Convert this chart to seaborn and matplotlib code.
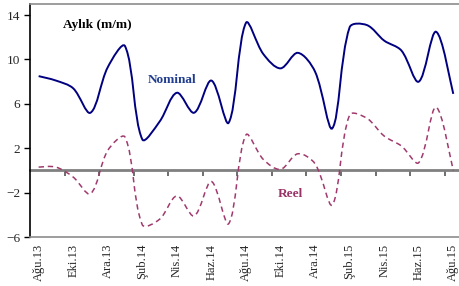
import numpy as np
import matplotlib
matplotlib.use("Agg")
import matplotlib.pyplot as plt
from matplotlib.path import Path
from matplotlib.patches import PathPatch
import seaborn as sns

months = ["Ağu.13", "Eyl.13", "Eki.13", "Kas.13", "Ara.13", "Oca.14", "Şub.14",
          "Mar.14", "Nis.14", "May.14", "Haz.14", "Tem.14", "Ağu.14", "Eyl.14",
          "Eki.14", "Kas.14", "Ara.14", "Oca.15", "Şub.15", "Mar.15", "Nis.15",
          "May.15", "Haz.15", "Tem.15", "Ağu.15"]
nominal = [8.5, 8.1, 7.4, 5.2, 9.3, 11.2, 2.8, 4.4, 7.0, 5.2, 8.1, 4.3, 13.3,
           10.5, 9.2, 10.6, 8.9, 3.8, 12.9, 13.1, 11.7, 10.8, 8.0, 12.5, 6.9]
reel = [0.3, 0.3, -0.6, -2.1, 1.8, 3.0, -4.9, -4.4, -2.3, -4.1, -1.0, -4.8, 3.2,
        1.0, 0.1, 1.5, 0.6, -3.1, 5.0, 4.7, 3.1, 2.2, 0.7, 5.7, 0.0]
y_ticks = [-6, -2, 2, 6, 10, 14]


def smooth_path(ax, x, y):
    """Smoothed line like Excel: Bezier through every point, handles scaled
    by the on-screen length of the neighbouring segments."""
    pts = np.column_stack([x, y]).astype(float)
    px = ax.transData.transform(pts)
    n = len(pts)
    seg = np.hypot(*np.diff(px, axis=0).T)
    verts = [pts[0]]
    codes = [Path.MOVETO]
    for i in range(n - 1):
        a, b = max(i - 1, 0), min(i + 2, n - 1)
        d_prev = seg[i - 1] if i > 0 else seg[i]
        d_next = seg[i + 1] if i + 1 < n - 1 else seg[i]
        t1 = (pts[i + 1] - pts[a]) * seg[i] / (d_prev + seg[i]) / 3
        t2 = (pts[b] - pts[i]) * seg[i] / (seg[i] + d_next) / 3
        verts += [pts[i] + t1, pts[i + 1] - t2, pts[i + 1]]
        codes += [Path.CURVE4] * 3
    return Path(verts, codes)


sns.set_style("ticks")
plt.rcParams["font.family"] = ["Liberation Serif", "DejaVu Serif"]

fig = plt.figure(figsize=(4.59, 2.86), dpi=100)
ax = fig.add_axes([30 / 459, 0.1713, 0.941, 0.8147])

x = np.arange(len(months))
ax.set_xlim(-0.5, len(months) - 0.5)
ax.set_ylim(-6, 15)

ax.add_patch(PathPatch(smooth_path(ax, x, nominal), fill=False, edgecolor="#000080",
                       linewidth=1.4, zorder=3))
ax.add_patch(PathPatch(smooth_path(ax, x, reel), fill=False, edgecolor="#A03A6E",
                       linewidth=1.1, linestyle=(0, (3.5, 2.5)), zorder=3))

ax.set_yticks(y_ticks)
ax.set_xticks(x[::2])
ax.set_xticklabels(months[::2], rotation=90)
ax.tick_params(axis="x", length=0, pad=5, labelsize=9)
ax.tick_params(axis="y", direction="out", length=4, width=1, color="black",
               labelsize=9.5, pad=3)

for side in ["top", "bottom", "right"]:
    ax.spines[side].set_color("#8c8c8c")
    ax.spines[side].set_linewidth(1.2)
ax.spines["left"].set_color("black")
ax.spines["left"].set_linewidth(1.2)

# zero axis with tick marks between the categories
zero_ax = ax.secondary_xaxis(6 / 21)
zero_ax.set_xticks(x[1:-1:2] + 0.5)
zero_ax.set_xticklabels([])
zero_ax.tick_params(direction="out", length=4, width=1.2, color="#555555")
zero_ax.spines["bottom"].set_color("#808080")
zero_ax.spines["bottom"].set_linewidth(2)

ax.text(1.4, 13.1, "Aylık (m/m)", fontsize=9.5, fontweight="bold", color="black",
        va="center", ha="left")
ax.text(6.3, 8.15, "Nominal", fontsize=9.5, fontweight="bold", color="#1F3C8F",
        va="center", ha="left")
ax.text(13.85, -2.15, "Reel", fontsize=9.5, fontweight="bold", color="#993366",
        va="center", ha="left")

fig.savefig("out.png", dpi=100)
